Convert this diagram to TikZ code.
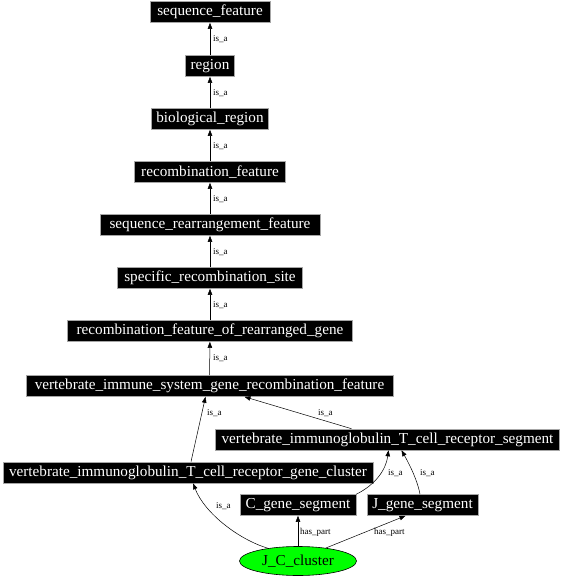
\documentclass[tikz,border=0pt]{standalone}
\usepackage{fontspec}
\setmainfont{Liberation Serif}
\usetikzlibrary{arrows.meta,shapes.geometric,calc}
\definecolor{jcgreen}{RGB}{0,255,0}
\begin{document}
\begin{tikzpicture}[x=1pt,y=-1pt,
 term/.style={fill=black,draw=gray!70,line width=0.6pt,text=white,font=\fontsize{15.2}{17}\selectfont,minimum height=21pt,inner xsep=2pt,inner ysep=0pt},
 rel/.style={draw=black,line width=0.5pt,-{Triangle[length=6pt,width=4.5pt]}},
 lab/.style={font=\fontsize{9}{10}\selectfont,inner sep=0pt,anchor=west}]
\useasboundingbox (0,0) rectangle (563,576);
\node[term,minimum width=120pt] (sf) at (210,12) {sequence\_feature};
\node[term,minimum width=49pt] (rg) at (210,66) {region};
\node[term,minimum width=117pt] (br) at (210,119) {biological\_region};
\node[term,minimum width=151pt] (rf) at (210,172) {recombination\_feature};
\node[term,minimum width=220pt] (srf) at (210,225) {sequence\_rearrangement\_feature};
\node[term,minimum width=185pt] (srs) at (210,278) {specific\_recombination\_site};
\node[term,minimum width=285pt] (rfrg) at (210,331) {recombination\_feature\_of\_rearranged\_gene};
\node[term,minimum width=367pt] (vis) at (209.5,386) {vertebrate\_immune\_system\_gene\_recombination\_feature};
\node[term,minimum width=344pt] (seg) at (387.5,439.5) {vertebrate\_immunoglobulin\_T\_cell\_receptor\_segment};
\node[term,minimum width=370pt] (cl) at (188,472.5) {vertebrate\_immunoglobulin\_T\_cell\_receptor\_gene\_cluster};
\node[term,minimum width=116pt] (cg) at (298,505) {C\_gene\_segment};
\node[term,minimum width=111pt] (jg) at (422.5,505) {J\_gene\_segment};
\node[ellipse,fill=jcgreen,draw=black,line width=0.6pt,minimum width=117pt,minimum height=29pt,inner sep=0pt,font=\fontsize{15.2}{17}\selectfont] (jc) at (298,561) {J\_C\_cluster};

\draw[rel] (rg) -- (sf);
\draw[rel] (br) -- (rg);
\draw[rel] (rf) -- (br);
\draw[rel] (srf) -- (rf);
\draw[rel] (srs) -- (srf);
\draw[rel] (rfrg) -- (srs);
\draw[rel] (vis) -- (rfrg);
\draw[rel] ($(cl.north)+(3,0)$) -- ($(vis.south)+(-4,0)$);
\draw[rel] ($(seg.north)+(-36,0)$) -- ($(vis.south)+(35,0)$);
\draw[rel] (cg.north east) .. controls (375,485) and (386,470) .. ($(seg.south)+(1,0)$);
\draw[rel] ($(jg.north)+(-2.5,0)$) .. controls (417,478) and (407,460) .. ($(seg.south)+(14,0)$);
\draw[rel] (jc.157) .. controls (240,540) and (205,514) .. ($(cl.south)+(5,0)$);
\draw[rel] (jc.north) -- (cg.south);
\draw[rel] (jc.25) -- ($(jg.south)+(-17,0)$);

\node[lab] (l1) at (213,39) {is\_a};
\node[lab] (l2) at (213,93) {is\_a};
\node[lab] (l3) at (213,146) {is\_a};
\node[lab] (l4) at (213,199) {is\_a};
\node[lab] (l5) at (213,252) {is\_a};
\node[lab] (l6) at (213,305) {is\_a};
\node[lab] (l7) at (213,358) {is\_a};
\node[lab] (l8) at (207,413) {is\_a};
\node[lab] (l9) at (318,413) {is\_a};
\node[lab] (l10) at (388,473) {is\_a};
\node[lab] (l11) at (420,473) {is\_a};
\node[lab] (l12) at (216,506) {is\_a};
\node[lab] (l13) at (300,532) {has\_part};
\node[lab] (l14) at (374,532) {has\_part};
\end{tikzpicture}
\end{document}
